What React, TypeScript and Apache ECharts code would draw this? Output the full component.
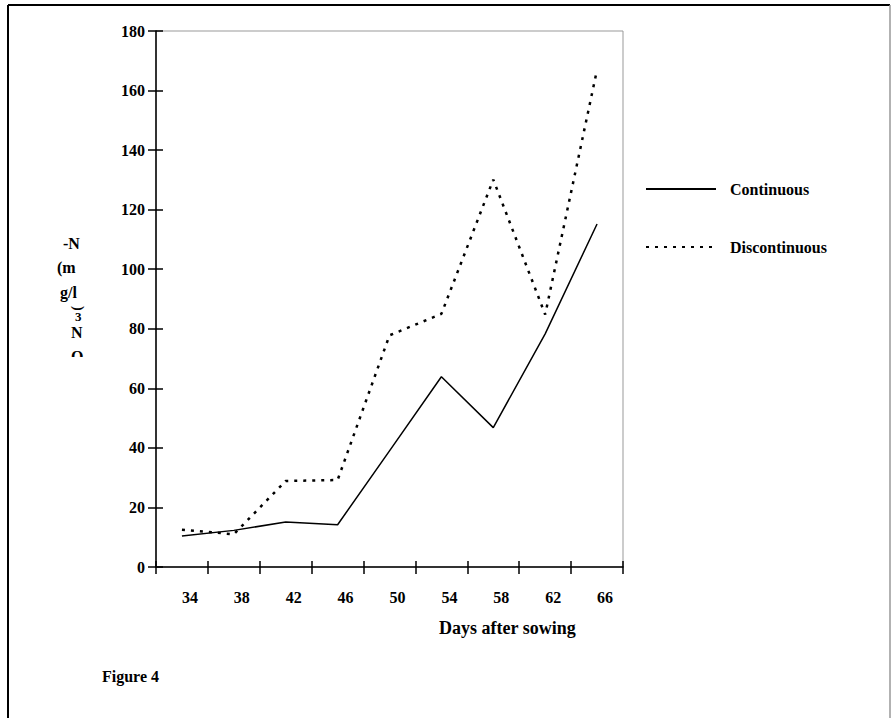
import React, { useEffect, useRef } from "react";
import * as echarts from "echarts";

const categories = ["34", "38", "42", "46", "50", "54", "58", "62", "66"];
const continuous = [10.4, 12.3, 15.1, 14.2, 39, 63.9, 46.8, 78.3, 115.2];
const discontinuous = [12.5, 11.0, 28.9, 29.2, 77.8, 85.0, 130.1, 84.8, 167];
const yMin = 0;
const yMax = 180;
const yInterval = 20;
const xTitle = "Days after sowing";
const yTitleLines = ["-N", "(m", "g/l", "N", "O"];
const figureLabel = "Figure 4";

const FONT = "'Liberation Serif', 'Times New Roman', serif";

export default function App() {
  const ref = useRef<HTMLDivElement>(null);
  useEffect(() => {
    if (!ref.current) return;
    const chart = echarts.init(ref.current, undefined, { renderer: "svg" });
    const txt = (text: string, x: number, y: number, size = 15, extra: any = {}) => ({
      type: "text",
      x,
      y,
      ...extra,
      style: {
        text,
        fontFamily: FONT,
        fontWeight: "bold",
        fontSize: size,
        fill: "#000",
        verticalAlign: "middle",
        align: "left",
        ...(extra.style || {}),
      },
    });
    const option: any = {
      animation: false,
      backgroundColor: "#fff",
      grid: {
        left: 156,
        top: 31,
        right: 268,
        bottom: 151,
        show: true,
        borderColor: "#999",
        borderWidth: 1,
      },
      legend: {
        orient: "vertical",
        left: 640,
        top: 176,
        itemWidth: 70,
        itemHeight: 14,
        itemGap: 42,
        itemStyle: { opacity: 0 },
        data: ["Continuous", "Discontinuous"],
        textStyle: {
          fontFamily: FONT,
          fontWeight: "bold",
          fontSize: 16,
          color: "#000",
          padding: [0, 0, 0, 9],
        },
      },
      xAxis: [
        {
          type: "category",
          data: categories,
          boundaryGap: true,
          axisLine: { show: true, lineStyle: { color: "#000", width: 1.5 } },
          axisTick: { show: true, length: 7, lineStyle: { color: "#000", width: 1.5 } },
          axisLabel: {
            margin: 22,
            fontFamily: FONT,
            fontWeight: "bold",
            fontSize: 16,
            color: "#000",
            padding: [0, 0, 0, 16],
          },
          splitLine: { show: false },
        },
        {
          type: "category",
          data: categories,
          position: "bottom",
          boundaryGap: true,
          axisLine: { show: false },
          axisTick: { show: true, inside: true, length: 6, lineStyle: { color: "#000", width: 1.5 } },
          axisLabel: { show: false },
          splitLine: { show: false },
        },
      ],
      yAxis: [
        {
          type: "value",
          min: yMin,
          max: yMax,
          interval: yInterval,
          axisLine: { show: true, lineStyle: { color: "#000", width: 1.5 } },
          axisTick: { show: true, length: 8, lineStyle: { color: "#000", width: 1.5 } },
          axisLabel: {
            margin: 11,
            fontFamily: FONT,
            fontWeight: "bold",
            fontSize: 16,
            color: "#000",
          },
          splitLine: { show: false },
        },
        {
          type: "value",
          min: yMin,
          max: yMax,
          interval: yInterval,
          position: "left",
          axisLine: { show: false },
          axisTick: { show: true, inside: true, length: 7, lineStyle: { color: "#000", width: 1.5 } },
          axisLabel: { show: false },
          splitLine: { show: false },
        },
      ],
      series: [
        {
          name: "Continuous",
          type: "line",
          data: continuous,
          symbol: "none",
          lineStyle: { color: "#000", width: 1.5, type: "solid" },
          itemStyle: { color: "#000" },
        },
        {
          name: "Discontinuous",
          type: "line",
          data: discontinuous,
          symbol: "none",
          lineStyle: { color: "#000", width: 2.5, type: [3, 6] },
          itemStyle: { color: "#000" },
        },
      ],
      graphic: [
        { type: "line", shape: { x1: 8, y1: 5, x2: 8, y2: 718 }, style: { stroke: "#000", lineWidth: 2 } },
        { type: "line", shape: { x1: 8, y1: 5, x2: 890, y2: 5 }, style: { stroke: "#000", lineWidth: 2 } },
        { type: "line", shape: { x1: 890, y1: 5, x2: 890, y2: 718 }, style: { stroke: "#999", lineWidth: 1.5 } },
        txt(xTitle, 439, 628, 18),
        txt(yTitleLines[0], 63, 243, 16),
        txt(yTitleLines[1], 57, 267, 16),
        txt(yTitleLines[2], 60, 292, 16),
        txt(")", 78, 306, 14, { rotation: -Math.PI / 2 }),
        txt("3", 75, 316, 13),
        txt(yTitleLines[3], 71, 332, 16),
        txt(yTitleLines[4], 71, 356, 16),
        { type: "rect", shape: { x: 60, y: 357, width: 30, height: 14 }, style: { fill: "#fff" } },
        txt(figureLabel, 102, 676, 16),
      ],
    };
    chart.setOption(option);
    return () => chart.dispose();
  }, []);
  return (
    <div
      ref={ref}
      style={{ position: "fixed", left: 0, top: 0, width: 891, height: 718, background: "#fff" }}
    />
  );
}
